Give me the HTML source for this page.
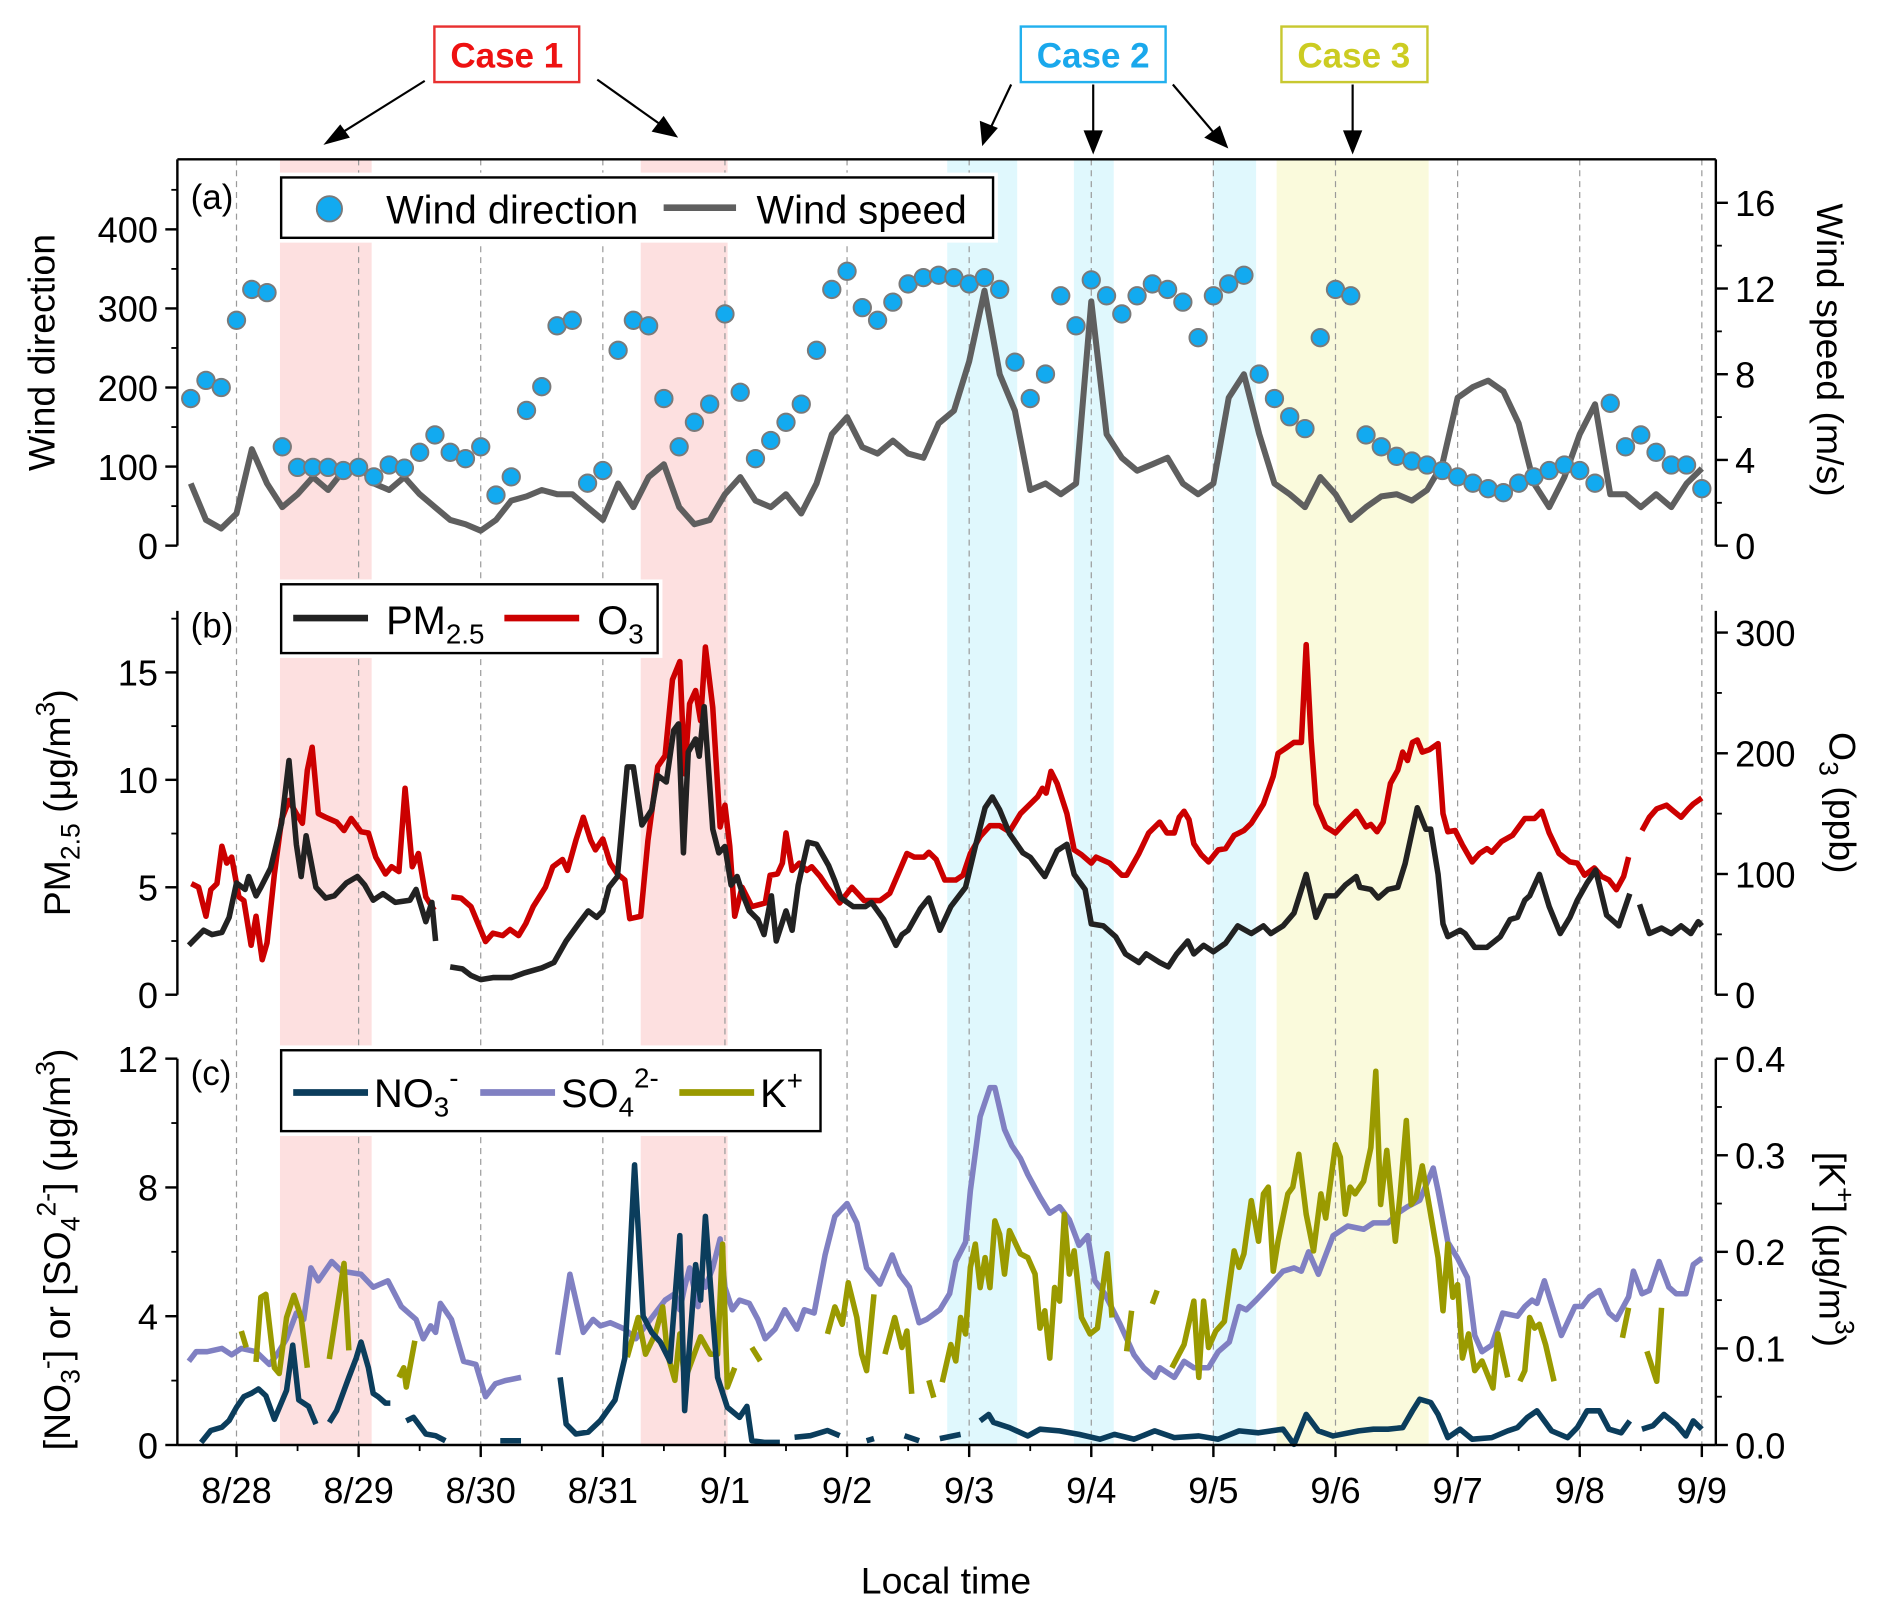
<!DOCTYPE html>
<html><head><meta charset="utf-8"><style>
html,body{margin:0;padding:0;background:#fff;}
svg{display:block;font-family:"Liberation Sans",Arial,sans-serif;}
</style></head>
<body>
<svg id="chart" width="1892" height="1614" viewBox="0 0 1568 1337" preserveAspectRatio="none" xmlns="http://www.w3.org/2000/svg">
<g id="bg"></g>
<g id="marks"></g>
<g id="axes"></g>
<g id="legends"></g>
<g id="annot"></g>
</svg>
<script>
// ---- data (t = days since 8/28 00:00) ----
const dayLabels = ["8/28","8/29","8/30","8/31","9/1","9/2","9/3","9/4","9/5","9/6","9/7","9/8","9/9"];
const windStart = -0.375, windStep = 0.125;
const windSpeed = [2.9,1.2,0.8,1.5,4.5,2.9,1.8,2.4,3.2,2.6,3.5,3.8,2.9,2.6,3.2,2.4,1.8,1.2,1.0,0.7,1.2,2.1,2.3,2.6,2.4,2.4,1.8,1.2,2.9,1.8,3.2,3.8,1.8,1.0,1.2,2.4,3.2,2.1,1.8,2.4,1.5,2.9,5.2,6.0,4.6,4.3,4.9,4.3,4.1,5.7,6.3,8.6,11.9,8.0,6.3,2.6,2.9,2.4,2.9,11.4,5.2,4.1,3.5,3.8,4.1,2.9,2.4,2.9,6.9,8.0,5.2,2.9,2.4,1.8,3.2,2.4,1.2,1.8,2.3,2.4,2.1,2.6,3.8,6.9,7.4,7.7,7.2,5.7,2.9,1.8,3.2,5.2,6.6,2.4,2.4,1.8,2.4,1.8,2.9,3.6];
const windDir = [186,209,200,285,324,320,125,99,99,99,95,99,87,102,98,118,140,118,110,125,64,87,171,201,278,285,79,95,247,285,278,186,125,156,179,293,194,110,133,156,179,247,324,347,301,285,308,331,339,342,339,331,339,324,232,186,217,316,278,336,316,293,316,331,324,308,263,316,331,342,217,186,163,148,263,324,316,140,125,113,107,102,95,87,79,72,67,79,87,95,102,95,79,180,125,140,118,102,102,72];

const pmT = [-0.39,-0.27,-0.2,-0.12,-0.06,0,0.07,0.1,0.16,0.2,0.28,0.37,0.43,0.49,0.53,0.57,0.65,0.73,0.8,0.9,0.99,1.05,1.12,1.2,1.3,1.42,1.47,1.55,1.6,1.63,1.7,1.75,1.85,1.92,2.0,2.1,2.25,2.35,2.5,2.6,2.7,2.8,2.88,2.95,3.0,3.05,3.12,3.2,3.25,3.32,3.4,3.45,3.52,3.58,3.62,3.66,3.7,3.76,3.79,3.83,3.9,3.95,4.0,4.05,4.1,4.15,4.2,4.27,4.32,4.38,4.42,4.5,4.55,4.6,4.68,4.75,4.85,4.9,4.95,5.05,5.15,5.2,5.3,5.4,5.45,5.5,5.6,5.67,5.76,5.85,5.97,6.05,6.13,6.19,6.25,6.33,6.44,6.5,6.62,6.72,6.8,6.86,6.95,7.0,7.1,7.2,7.28,7.39,7.45,7.56,7.63,7.7,7.79,7.84,7.92,8.0,8.1,8.2,8.31,8.41,8.47,8.57,8.66,8.76,8.84,8.92,9.0,9.08,9.17,9.2,9.29,9.35,9.43,9.51,9.57,9.67,9.74,9.78,9.84,9.88,9.92,10.02,10.06,10.14,10.24,10.35,10.43,10.49,10.55,10.59,10.67,10.75,10.84,10.92,10.98,11.06,11.13,11.22,11.32,11.41,11.45,11.49,11.57,11.67,11.75,11.83,11.91,11.97,12.0];
const pmV = [2.3,3.0,2.8,2.9,3.6,5.2,4.9,5.5,4.6,5.0,5.9,8.0,10.9,7.0,5.5,7.4,5.0,4.5,4.6,5.2,5.5,5.1,4.4,4.7,4.3,4.4,4.9,3.4,4.3,2.5,null,1.3,1.2,0.9,0.7,0.8,0.8,1.0,1.25,1.5,2.5,3.3,3.9,3.6,3.9,5.0,5.5,10.6,10.6,7.9,8.6,10.2,9.9,12.3,12.6,6.6,11.3,11.9,11.1,13.4,7.7,6.6,6.9,5.1,5.5,4.6,3.9,3.5,2.8,4.6,2.5,3.9,3.0,5.1,7.1,7.0,6.0,5.3,4.5,4.1,4.1,4.3,3.5,2.3,2.8,3.0,4.0,4.5,3.0,4.1,5.0,6.9,8.7,9.2,8.6,7.5,6.6,6.4,5.5,6.7,7.0,5.6,4.9,3.3,3.2,2.7,1.9,1.5,1.9,1.5,1.3,1.9,2.5,1.9,2.3,2.0,2.4,3.2,2.85,3.2,2.85,3.2,3.8,5.6,3.6,4.6,4.6,5.1,5.5,5.0,4.9,4.5,4.9,5.0,6.1,8.7,7.7,7.7,5.6,3.3,2.7,3.0,2.85,2.2,2.2,2.7,3.5,3.6,4.4,4.6,5.6,4.1,2.85,3.6,4.4,5.2,5.8,3.7,3.2,4.7,null,4.2,2.85,3.1,2.85,3.2,2.85,3.4,3.2];

const o3T = [-0.37,-0.31,-0.25,-0.21,-0.16,-0.12,-0.08,-0.04,0.02,0.06,0.12,0.16,0.21,0.25,0.31,0.37,0.43,0.49,0.54,0.58,0.62,0.67,0.73,0.82,0.88,0.94,1.02,1.08,1.14,1.22,1.27,1.33,1.38,1.44,1.49,1.55,1.62,1.69,1.76,1.84,1.92,2.04,2.1,2.18,2.24,2.31,2.37,2.43,2.53,2.59,2.67,2.71,2.78,2.84,2.9,2.94,3.0,3.06,3.12,3.18,3.22,3.31,3.37,3.45,3.51,3.57,3.63,3.67,3.71,3.76,3.8,3.84,3.9,3.96,4.0,4.04,4.08,4.14,4.22,4.33,4.37,4.43,4.47,4.5,4.55,4.61,4.67,4.71,4.78,4.84,4.94,5.04,5.14,5.27,5.35,5.49,5.55,5.63,5.67,5.73,5.8,5.89,5.95,6.01,6.09,6.17,6.25,6.33,6.42,6.5,6.56,6.6,6.63,6.67,6.72,6.8,6.86,6.92,7.0,7.04,7.15,7.25,7.29,7.39,7.47,7.56,7.62,7.68,7.72,7.76,7.8,7.84,7.9,7.96,8.04,8.1,8.17,8.25,8.31,8.41,8.49,8.53,8.59,8.66,8.72,8.76,8.8,8.84,8.92,9.0,9.08,9.17,9.25,9.29,9.34,9.39,9.45,9.51,9.55,9.59,9.63,9.67,9.71,9.77,9.84,9.88,9.92,9.98,10.04,10.12,10.18,10.24,10.28,10.36,10.45,10.55,10.63,10.69,10.75,10.83,10.92,10.98,11.04,11.12,11.18,11.24,11.3,11.36,11.4,11.45,11.51,11.57,11.63,11.71,11.77,11.83,11.89,11.93,12.0];
const o3V = [92,89,65,87,92,123,109,114,81,78,41,65,29,43,100,145,161,150,142,186,205,150,147,143,136,146,135,134,114,100,106,102,171,106,117,81,70,null,81,80,73,44,51,49,54,49,59,73,89,106,112,103,128,147,128,120,129,109,100,95,63,65,128,189,198,261,276,183,241,252,227,288,238,139,157,123,65,89,73,76,99,100,109,134,103,109,103,106,98,89,76,89,78,78,84,117,114,114,118,112,95,95,99,117,131,140,140,135,150,158,164,171,167,185,175,150,120,116,109,114,109,99,99,117,134,143,134,134,147,152,145,125,116,110,120,121,132,136,142,158,181,200,204,209,209,290,211,158,139,134,143,152,139,141,135,143,175,186,201,194,209,211,201,203,208,150,135,136,124,110,117,121,118,127,132,146,146,152,134,117,110,109,99,105,98,95,87,98,114,null,136,147,154,157,152,147,154,158,163];

const so4T = [-0.39,-0.33,-0.24,-0.12,-0.04,0.04,0.16,0.27,0.33,0.41,0.49,0.55,0.61,0.67,0.78,0.86,1.02,1.12,1.24,1.35,1.47,1.53,1.59,1.63,1.67,1.76,1.86,1.96,2.04,2.12,2.2,2.33,2.5,2.63,2.73,2.84,2.92,2.98,3.06,3.18,3.27,3.35,3.43,3.51,3.59,3.63,3.67,3.71,3.78,3.8,3.84,3.9,3.96,4.0,4.06,4.12,4.2,4.27,4.33,4.41,4.49,4.59,4.65,4.73,4.82,4.9,5.0,5.08,5.16,5.27,5.37,5.43,5.51,5.59,5.65,5.76,5.84,5.89,5.97,6.01,6.09,6.17,6.21,6.29,6.35,6.42,6.48,6.58,6.66,6.74,6.82,6.9,6.97,7.03,7.11,7.23,7.35,7.43,7.52,7.56,7.68,7.76,7.84,7.96,8.04,8.13,8.21,8.27,8.35,8.45,8.57,8.66,8.72,8.78,8.86,8.98,9.1,9.23,9.31,9.43,9.51,9.59,9.69,9.8,9.84,9.92,10.0,10.08,10.14,10.2,10.28,10.37,10.49,10.55,10.61,10.65,10.71,10.85,10.96,11.02,11.08,11.16,11.24,11.3,11.4,11.44,11.51,11.57,11.65,11.73,11.79,11.87,11.93,12.0];
const so4V = [2.6,2.9,2.9,3.0,2.8,3.0,2.9,2.5,2.8,3.3,4.1,3.9,5.5,5.1,5.7,5.4,5.3,4.9,5.1,4.3,3.9,3.3,3.7,3.5,4.4,3.9,2.6,2.5,1.5,1.9,2.0,2.1,null,2.8,5.3,3.5,3.9,3.7,3.8,3.6,3.3,3.7,4.1,4.5,4.7,4.2,4.9,5.5,4.3,5.3,4.9,5.5,6.4,4.9,4.2,4.5,4.4,3.9,3.3,3.6,4.2,3.6,4.2,4.1,5.9,7.1,7.5,6.9,5.5,5.0,5.9,5.3,4.9,3.8,3.9,4.2,4.7,5.7,6.3,7.9,10.2,11.1,11.1,9.8,9.3,8.9,8.4,7.7,7.2,7.4,7.0,6.2,6.5,5.1,4.7,3.8,2.8,2.4,2.1,2.4,2.1,2.6,2.4,2.4,2.9,3.2,4.3,4.2,4.5,4.9,5.4,5.5,5.4,6.0,5.3,6.5,6.8,6.7,6.9,6.9,7.2,7.4,7.6,8.6,7.9,6.3,5.8,5.2,3.4,2.9,3.1,4.1,4.0,4.3,4.5,4.4,5.1,3.4,4.3,4.3,4.6,4.8,4.1,3.9,4.6,5.4,4.7,4.8,5.7,4.9,4.7,4.7,5.6,5.8];

const no3T = [-0.29,-0.21,-0.12,-0.06,0,0.06,0.12,0.18,0.24,0.31,0.41,0.46,0.51,0.59,0.65,0.7,0.76,0.82,0.92,0.98,1.02,1.08,1.12,1.16,1.22,1.26,1.32,1.39,1.45,1.55,1.63,1.71,1.8,1.96,2.0,2.16,2.33,2.5,2.65,2.7,2.78,2.88,2.98,3.1,3.18,3.26,3.33,3.4,3.47,3.55,3.63,3.67,3.76,3.8,3.84,3.9,3.94,4.02,4.12,4.18,4.22,4.33,4.45,4.5,4.57,4.7,4.84,4.94,5.05,5.16,5.22,5.35,5.47,5.59,5.68,5.76,5.93,6.0,6.09,6.16,6.2,6.33,6.48,6.58,6.74,6.9,7.07,7.19,7.35,7.52,7.68,7.88,8.04,8.21,8.37,8.57,8.66,8.76,8.86,8.98,9.19,9.31,9.43,9.55,9.63,9.69,9.78,9.84,9.92,10.02,10.12,10.28,10.41,10.49,10.57,10.65,10.77,10.9,10.98,11.06,11.16,11.24,11.34,11.41,11.45,11.51,11.6,11.69,11.79,11.87,11.93,12.0];
const no3V = [0.08,0.45,0.55,0.76,1.17,1.5,1.6,1.74,1.53,0.8,1.7,3.1,1.4,1.2,0.65,null,0.7,1.07,2.1,2.7,3.2,2.4,1.6,1.5,1.3,1.3,null,0.75,0.86,0.34,0.29,0.13,null,0.24,null,0.13,0.13,null,2.1,0.65,0.34,0.4,0.76,1.4,2.7,8.7,4.0,3.5,3.2,2.6,6.5,1.07,5.6,4.5,7.1,4.0,2.1,1.17,0.86,1.2,0.13,0.08,0.08,null,0.24,0.29,0.45,0.29,null,0.13,0.2,null,0.29,0.13,null,0.2,0.33,null,0.75,0.95,0.7,0.54,0.28,0.49,0.44,0.33,0.18,0.33,0.18,0.44,0.23,0.28,0.18,0.44,0.38,0.49,0.02,0.95,0.44,0.28,0.44,0.49,0.49,0.54,1.06,1.42,1.32,0.95,0.23,0.49,0.18,0.23,0.44,0.54,0.85,1.06,0.44,0.23,0.54,1.06,1.06,0.49,0.38,0.75,null,0.49,0.6,0.95,0.64,0.28,0.75,0.49];

const kT = [0.04,0.08,0.12,0.16,0.2,0.24,0.31,0.35,0.41,0.47,0.53,0.58,0.65,0.76,0.8,0.88,0.92,1.1,1.33,1.37,1.39,1.46,1.5,3.2,3.29,3.35,3.43,3.49,3.53,3.59,3.63,3.67,3.8,3.88,3.94,3.98,4.02,4.08,4.15,4.22,4.29,4.5,4.84,4.9,4.96,5.01,5.08,5.12,5.16,5.22,5.26,5.31,5.39,5.45,5.49,5.53,5.6,5.67,5.71,5.75,5.78,5.85,5.89,5.93,5.97,6.01,6.05,6.09,6.13,6.17,6.21,6.25,6.29,6.33,6.42,6.48,6.54,6.58,6.62,6.66,6.7,6.74,6.78,6.82,6.86,6.92,6.99,7.05,7.13,7.17,7.22,7.29,7.33,7.4,7.5,7.54,7.6,7.66,7.76,7.84,7.88,7.92,7.96,8.02,8.09,8.17,8.21,8.25,8.31,8.37,8.41,8.45,8.49,8.53,8.61,8.65,8.7,8.76,8.82,8.88,8.92,9.0,9.04,9.08,9.12,9.16,9.23,9.29,9.33,9.37,9.42,9.49,9.53,9.58,9.62,9.66,9.71,9.77,9.84,9.88,9.92,9.96,10.0,10.04,10.09,10.14,10.2,10.29,10.33,10.41,10.46,10.51,10.55,10.59,10.63,10.67,10.72,10.79,10.9,11.24,11.28,11.35,11.4,11.45,11.55,11.63,11.67,11.71];
const kV = [0.118,0.101,null,0.086,0.153,0.156,0.08,0.074,0.132,0.155,0.132,0.08,null,0.089,0.122,0.188,0.098,null,0.07,0.08,0.06,0.108,null,0.091,0.132,0.094,0.115,0.143,0.094,0.067,0.115,0.067,0.112,0.094,0.094,0.208,0.06,0.08,null,0.101,0.087,null,0.115,0.143,0.125,0.168,0.132,0.094,0.077,0.156,null,0.094,0.132,0.101,0.118,0.053,null,0.067,0.049,null,0.065,0.104,0.087,0.132,0.115,0.184,0.208,0.163,0.194,0.163,0.232,0.218,0.177,0.222,0.198,0.194,0.177,0.121,0.139,0.09,0.163,0.149,0.239,0.177,0.201,0.132,0.115,0.121,0.198,0.132,null,0.097,0.139,null,0.146,0.16,null,0.08,0.104,0.149,0.07,0.149,0.101,0.118,0.128,0.201,0.184,0.198,0.253,0.211,0.26,0.267,0.18,0.211,0.26,0.267,0.301,0.239,0.201,0.26,0.235,0.311,0.298,0.239,0.267,0.26,0.273,0.308,0.387,0.249,0.305,0.211,0.26,0.336,0.249,0.256,0.289,0.246,0.194,0.139,0.208,0.153,0.166,0.09,0.115,0.077,0.087,0.059,0.115,0.07,null,0.066,0.077,0.132,0.121,0.125,0.104,0.066,null,0.104,null,0.111,0.142,null,0.097,0.066,0.142];

const NS="http://www.w3.org/2000/svg";
function mk(tag, attrs, parent, text){
  const e=document.createElementNS(NS,tag);
  for(const k in attrs) e.setAttribute(k,attrs[k]);
  if(text!==undefined) e.textContent=text;
  if(parent) parent.appendChild(e);
  return e;
}
const X = t => 196 + t*101.2;
const yWD = v => 452 - v*0.655, yWS = v => 452 - v*17.75;
const yPM = v => 824 - v*17.8, yO3 = v => 824 - v*1.0;
const yN = v => 1197 - v*26.67, yK = v => 1197 - v*800;
const LEFT=147, RIGHT=1422;

const bg=document.getElementById('bg'), marks=document.getElementById('marks'),
      axes=document.getElementById('axes');

const shades=[[232,308,'#fde0e0','case1-shade-a'],[531,603,'#fde0e0','case1-shade-b'],[785,843,'#e0f8fd','case2-shade-a'],[890,923,'#e0f8fd','case2-shade-b'],[1005,1041,'#e0f8fd','case2-shade-c'],[1058,1184,'#fafadc','case3-shade']];
shades.forEach(s=>{
  const r=mk('rect',{x:s[0],y:132,width:s[1]-s[0],height:1197-132,fill:s[2]},bg);
  
  
});
dayLabels.forEach((d,i)=>{
  const l=mk('line',{x1:X(i),x2:X(i),y1:132,y2:1197,stroke:'#9a9a9a','stroke-width':1,'stroke-dasharray':'5,4'},bg);
  
  
});

function pathFrom(ts, vs, yf){
  let d='', pen=false;
  for(let i=0;i<vs.length;i++){
    if(vs[i]===null||vs[i]===undefined){pen=false;continue;}
    d+=(pen?'L':'M')+X(ts[i]).toFixed(1)+','+yf(vs[i]).toFixed(1);
    pen=true;
  }
  return d;
}
function line(ts,vs,yf,color,name,w){
  const p=mk('path',{d:pathFrom(ts,vs,yf),fill:'none',stroke:color,'stroke-width':w||4.6,'stroke-linejoin':'round'},marks);
  
  
}
const windT = windSpeed.map((_,i)=>windStart+i*windStep);
line(windT,windSpeed,yWS,'#5f5f5f','wind-speed-line',5);
windDir.forEach((v,i)=>{
  const c=mk('circle',{cx:X(windT[i]),cy:yWD(v),r:7.2,fill:'#12aaf0',stroke:'#7a7a7a','stroke-width':1.6},marks);
  
  
});
line(o3T,o3V,yO3,'#cc0000','o3-line');
line(pmT,pmV,yPM,'#222222','pm25-line');
line(so4T,so4V,yN,'#8080c2','so4-line');
line(kT,kV,yK,'#9a9a00','k-line');
line(no3T,no3V,yN,'#0b3d5c','no3-line');

function ax(x1,y1,x2,y2,name){
  const l=mk('line',{x1,y1,x2,y2,stroke:'#000','stroke-width':2},axes);
  
  
}
ax(LEFT,132,RIGHT,132,'top-frame');
function yAxis(x,top,bottom,ticks,minor,yf,side,name,fmt){
  ax(x,top,x,bottom,name);
  const dir=side==='left'?-1:1;
  minor.forEach(v=>{mk('line',{x1:x,x2:x+dir*5,y1:yf(v),y2:yf(v),stroke:'#000','stroke-width':1.5},axes);});
  ticks.forEach(v=>{
    mk('line',{x1:x,x2:x+dir*10,y1:yf(v),y2:yf(v),stroke:'#000','stroke-width':2},axes);
    const t=mk('text',{x:side==='left'?x-16:x+16,y:yf(v)+11,'font-size':30,'text-anchor':side==='left'?'end':'start',fill:'#000'},axes,fmt?fmt(v):String(v));
    
    
  });
}
const wdTicks=[0,100,200,300,400], wsTicks=[0,4,8,12,16];
const pmTicks=[0,5,10,15], o3Ticks=[0,100,200,300];
const nTicks=[0,4,8,12], kTicks=[0,0.1,0.2,0.3,0.4];
yAxis(LEFT,132,452,wdTicks,[50,150,250,350,450],yWD,'left','wind-direction-axis');
yAxis(RIGHT,132,452,wsTicks,[2,6,10,14],yWS,'right','wind-speed-axis');
yAxis(LEFT,506,824,pmTicks,[2.5,7.5,12.5,17.5],yPM,'left','pm25-axis');
yAxis(RIGHT,506,824,o3Ticks,[50,150,250],yO3,'right','o3-axis');
yAxis(LEFT,877,1197,nTicks,[2,6,10],yN,'left','ion-axis');
yAxis(RIGHT,877,1197,kTicks,[0.05,0.15,0.25,0.35],yK,'right','k-axis',v=>v.toFixed(1));
ax(LEFT,1197,RIGHT,1197,'x-axis');
dayLabels.forEach((d,i)=>{
  mk('line',{x1:X(i),x2:X(i),y1:1197,y2:1207,stroke:'#000','stroke-width':2},axes);
  if(i<12) mk('line',{x1:X(i+0.5),x2:X(i+0.5),y1:1197,y2:1202,stroke:'#000','stroke-width':1.5},axes);
  const t=mk('text',{x:X(i),y:1245,'font-size':30,'text-anchor':'middle'},axes,d);
  
  
});
</script>
<script>
(function(){
const s=document.getElementById('annot');
s.innerHTML = `
<text x="784" y="1320" font-size="31" text-anchor="middle">Local time</text>
<text x="158" y="173" font-size="29">(a)</text>
<text x="158" y="528" font-size="29">(b)</text>
<text x="158" y="899" font-size="29">(c)</text>
<text transform="translate(45,292) rotate(-90)" font-size="31" text-anchor="middle">Wind direction</text>
<text transform="translate(58,665) rotate(-90)" font-size="31" text-anchor="middle">PM<tspan font-size="22" dy="8">2.5</tspan><tspan dy="-8"> (μg/m</tspan><tspan font-size="22" dy="-13">3</tspan><tspan dy="13">)</tspan></text>
<text transform="translate(58,1035) rotate(-90)" font-size="31" text-anchor="middle">[NO<tspan font-size="22" dy="8">3</tspan><tspan font-size="22" dy="-20">-</tspan><tspan dy="12">] or [SO</tspan><tspan font-size="22" dy="8">4</tspan><tspan font-size="22" dy="-20">2-</tspan><tspan dy="12">] (μg/m</tspan><tspan font-size="22" dy="-13">3</tspan><tspan dy="13">)</tspan></text>
<text transform="translate(1506,290) rotate(90)" font-size="31" text-anchor="middle">Wind speed (m/s)</text>
<text transform="translate(1516,665) rotate(90)" font-size="31" text-anchor="middle">O<tspan font-size="22" dy="8">3</tspan><tspan dy="-8"> (ppb)</tspan></text>
<text transform="translate(1508,1035) rotate(90)" font-size="31" text-anchor="middle">[K<tspan font-size="22" dy="-13">+</tspan><tspan dy="13">] (μg/m</tspan><tspan font-size="22" dy="-13">3</tspan><tspan dy="13">)</tspan></text>

<g>
<rect x="360" y="22" width="120" height="46" fill="#fff" stroke="#e83030" stroke-width="2"/>
<text x="420" y="56" font-size="29" font-weight="bold" fill="#ee1111" text-anchor="middle">Case 1</text>
<line x1="352" y1="67" x2="280" y2="112" stroke="#000" stroke-width="1.8"/>
<polygon points="268,120 282,103 290,114" fill="#000"/>
<line x1="495" y1="66" x2="550" y2="105" stroke="#000" stroke-width="1.8"/>
<polygon points="562,114 540,109 550,96" fill="#000"/>
</g>
<g>
<rect x="846" y="22" width="120" height="46" fill="#fff" stroke="#22b0ee" stroke-width="2"/>
<text x="906" y="56" font-size="29" font-weight="bold" fill="#1aa8ec" text-anchor="middle">Case 2</text>
<line x1="838" y1="70" x2="820" y2="108" stroke="#000" stroke-width="1.8"/>
<polygon points="814,121 812,100 827,106" fill="#000"/>
<line x1="906" y1="70" x2="906" y2="112" stroke="#000" stroke-width="1.8"/>
<polygon points="906,128 898,108 914,108" fill="#000"/>
<line x1="972" y1="70" x2="1006" y2="110" stroke="#000" stroke-width="1.8"/>
<polygon points="1018,123 998,114 1011,104" fill="#000"/>
</g>
<g>
<rect x="1062" y="22" width="121" height="46" fill="#fff" stroke="#c8c830" stroke-width="2"/>
<text x="1122" y="56" font-size="29" font-weight="bold" fill="#cccc22" text-anchor="middle">Case 3</text>
<line x1="1121" y1="70" x2="1121" y2="112" stroke="#000" stroke-width="1.8"/>
<polygon points="1121,128 1113,108 1129,108" fill="#000"/>
</g>

<g>
<rect x="229" y="143" width="598" height="58" fill="#fff"/>
<rect x="233" y="147" width="590" height="50" fill="#fff" stroke="#000" stroke-width="2"/>
<circle cx="273" cy="173" r="10.5" fill="#12aaf0" stroke="#7a7a7a" stroke-width="1.5"/>
<text x="320" y="185" font-size="33">Wind direction</text>
<line x1="550" y1="172" x2="610" y2="172" stroke="#5f5f5f" stroke-width="5.5"/>
<text x="627" y="185" font-size="33">Wind speed</text>
</g>
<g>
<rect x="229" y="480" width="320" height="65" fill="#fff"/>
<rect x="233" y="484" width="312" height="57" fill="#fff" stroke="#000" stroke-width="2"/>
<line x1="243" y1="512" x2="305" y2="512" stroke="#222" stroke-width="5.5"/>
<text x="320" y="525" font-size="33">PM<tspan font-size="23" dy="8">2.5</tspan></text>
<line x1="418" y1="512" x2="480" y2="512" stroke="#cc0000" stroke-width="5.5"/>
<text x="495" y="525" font-size="33">O<tspan font-size="23" dy="8">3</tspan></text>
</g>
<g>
<rect x="229" y="866" width="455" height="75" fill="#fff"/>
<rect x="233" y="870" width="447" height="67" fill="#fff" stroke="#000" stroke-width="2"/>
<line x1="243" y1="905" x2="305" y2="905" stroke="#0b3d5c" stroke-width="5.5"/>
<text x="310" y="917" font-size="33">NO<tspan font-size="23" dy="8">3</tspan><tspan font-size="23" dy="-24">-</tspan></text>
<line x1="398" y1="905" x2="460" y2="905" stroke="#8080c2" stroke-width="5.5"/>
<text x="465" y="917" font-size="33">SO<tspan font-size="23" dy="8">4</tspan><tspan font-size="23" dy="-24">2-</tspan></text>
<line x1="563" y1="905" x2="625" y2="905" stroke="#9a9a00" stroke-width="5.5"/>
<text x="630" y="917" font-size="33">K<tspan font-size="23" dy="-14">+</tspan></text>
</g>`;
})();
</script>
</body></html>
